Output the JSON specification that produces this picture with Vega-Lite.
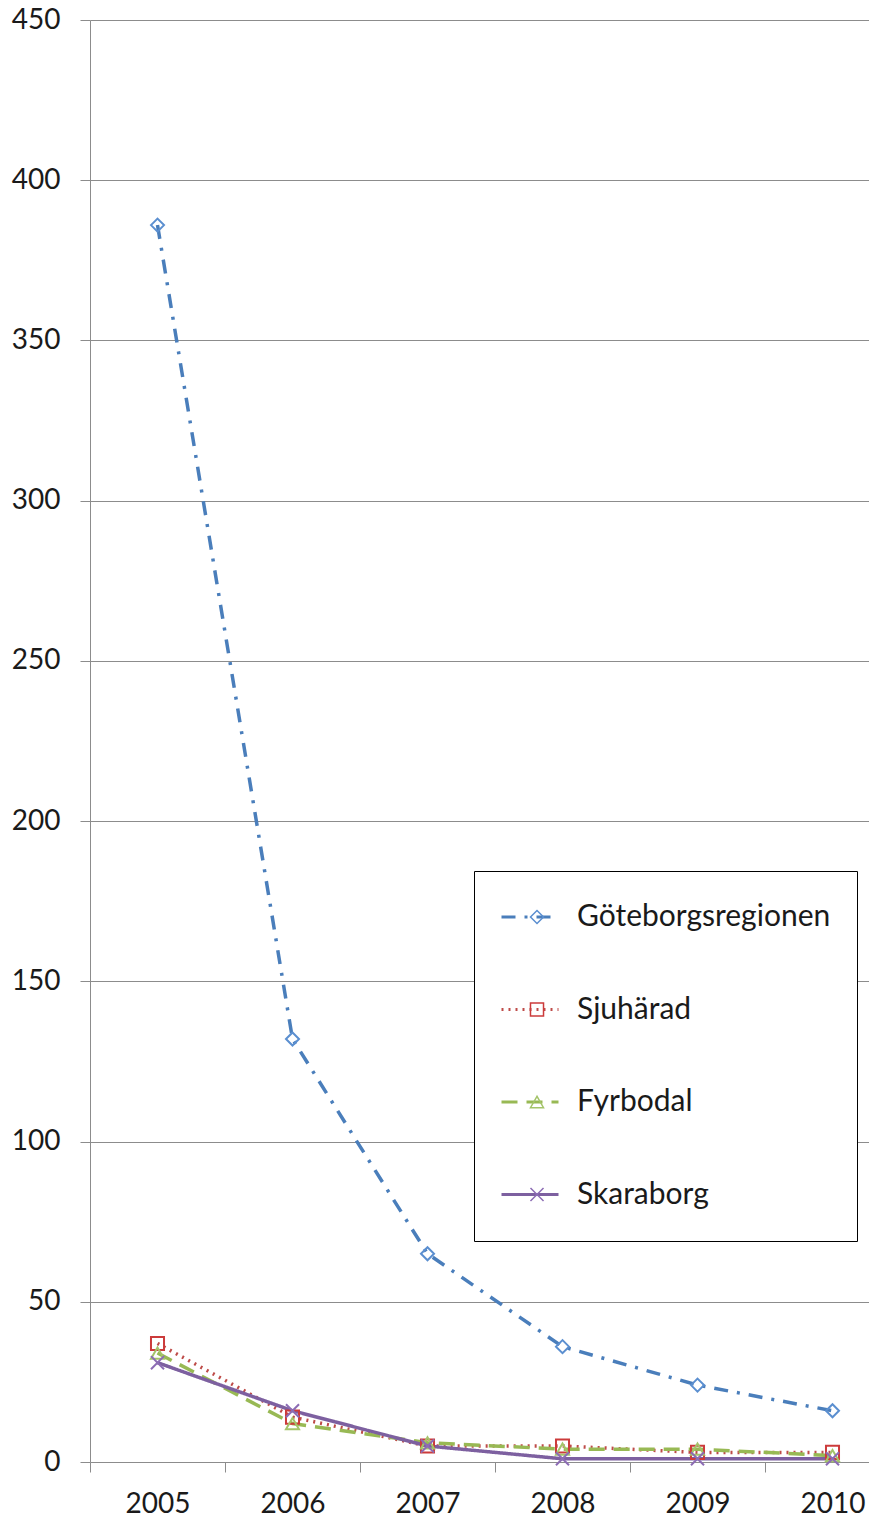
{
  "$schema": "https://vega.github.io/schema/vega-lite/v6.json",
  "usermeta": {"embedOptions": {"actions": false}},
  "width": 775,
  "height": 1442,
  "autosize": {"type": "none"},
  "padding": {"left": 90, "top": 20, "right": 4, "bottom": 57},
  "config": {
    "view": {"stroke": null},
    "font": "Lato",
    "axisY": {
      "gridColor": "#8c8c8c", "gridWidth": 1, "domainColor": "#8c8c8c", "tickColor": "#8c8c8c",
      "tickSize": 10, "labelFontSize": 28, "labelPadding": 20, "labelColor": "#1a1a1a", "labelFont": "Lato"
    },
    "axisX": {
      "domain": false, "grid": false, "tickColor": "#8c8c8c", "tickSize": 10,
      "labelFontSize": 28, "labelPadding": 18, "labelColor": "#1a1a1a", "labelFont": "Lato", "labelAngle": 0
    }
  },
  "data": {
    "values": [
      {"year": "2005", "region": "Göteborgsregionen", "value": 386},
      {"year": "2006", "region": "Göteborgsregionen", "value": 132},
      {"year": "2007", "region": "Göteborgsregionen", "value": 65},
      {"year": "2008", "region": "Göteborgsregionen", "value": 36},
      {"year": "2009", "region": "Göteborgsregionen", "value": 24},
      {"year": "2010", "region": "Göteborgsregionen", "value": 16},
      {"year": "2005", "region": "Sjuhärad", "value": 37},
      {"year": "2006", "region": "Sjuhärad", "value": 14},
      {"year": "2007", "region": "Sjuhärad", "value": 5},
      {"year": "2008", "region": "Sjuhärad", "value": 5},
      {"year": "2009", "region": "Sjuhärad", "value": 3},
      {"year": "2010", "region": "Sjuhärad", "value": 3},
      {"year": "2005", "region": "Fyrbodal", "value": 34},
      {"year": "2006", "region": "Fyrbodal", "value": 12},
      {"year": "2007", "region": "Fyrbodal", "value": 6},
      {"year": "2008", "region": "Fyrbodal", "value": 4},
      {"year": "2009", "region": "Fyrbodal", "value": 4},
      {"year": "2010", "region": "Fyrbodal", "value": 2},
      {"year": "2005", "region": "Skaraborg", "value": 31},
      {"year": "2006", "region": "Skaraborg", "value": 16},
      {"year": "2007", "region": "Skaraborg", "value": 5},
      {"year": "2008", "region": "Skaraborg", "value": 1},
      {"year": "2009", "region": "Skaraborg", "value": 1},
      {"year": "2010", "region": "Skaraborg", "value": 1}
    ]
  },
  "encoding": {
    "x": {
      "field": "year", "type": "ordinal", "title": null,
      "scale": {"type": "band", "range": [0, 810], "paddingInner": 0, "paddingOuter": 0},
      "axis": {"tickBand": "extent"}
    },
    "y": {
      "field": "value", "type": "quantitative", "title": null,
      "scale": {"domain": [0, 450], "nice": false, "zero": true},
      "axis": {"values": [0, 50, 100, 150, 200, 250, 300, 350, 400, 450]}
    }
  },
  "layer": [
    {
      "mark": {"type": "line", "strokeWidth": 3.5, "interpolate": "linear", "strokeCap": "butt"},
      "encoding": {
        "color": {
          "field": "region", "type": "nominal",
          "scale": {"domain": ["Göteborgsregionen", "Sjuhärad", "Fyrbodal", "Skaraborg"], "range": ["#4a7ebb", "#be4b48", "#98b954", "#7d60a0"]},
          "legend": {
            "orient": "none", "legendX": 384, "legendY": 851, "title": null,
            "strokeColor": "#000000", "fillColor": "#ffffff", "padding": 26, "clipHeight": 40,
            "symbolType": "stroke", "symbolSize": 3249, "symbolStrokeWidth": 3,
            "labelFontSize": 30, "labelOffset": 17, "rowPadding": 52.5, "labelLimit": 500,
            "labelColor": "#1a1a1a", "labelFont": "Lato"
          }
        },
        "strokeDash": {
          "field": "region", "type": "nominal",
          "scale": {"domain": ["Göteborgsregionen", "Sjuhärad", "Fyrbodal", "Skaraborg"], "range": [[14, 9, 3, 9], [2, 5], [16, 9], [1, 0]]}
        }
      }
    },
    {
      "mark": {"type": "point", "filled": false, "strokeWidth": 2, "size": 170, "opacity": 1},
      "encoding": {
        "stroke": {
          "field": "region", "type": "nominal",
          "scale": {"domain": ["Göteborgsregionen", "Sjuhärad", "Fyrbodal", "Skaraborg", " "], "range": ["#5b8fd0", "#cc3b3b", "#a4c46a", "#8c6cb4", "#999999"]},
          "legend": {
            "orient": "none", "legendX": 384, "legendY": 851, "title": null,
            "values": ["Göteborgsregionen", "Sjuhärad", "Fyrbodal", "Skaraborg"],
            "padding": 26, "clipHeight": 40, "symbolSize": 170, "symbolStrokeWidth": 1.5, "symbolOffset": 22,
            "labelFontSize": 30, "labelOffset": 40, "rowPadding": 52.5, "labelExpr": "''", "labelLimit": 500, "labelFont": "Lato"
          }
        },
        "shape": {
          "field": "region", "type": "nominal",
          "scale": {"domain": ["Göteborgsregionen", "Sjuhärad", "Fyrbodal", "Skaraborg", " "], "range": ["diamond", "square", "triangle-up", "M-1,-1L1,1M1,-1L-1,1", "circle"]},
          "legend": {
            "orient": "none", "legendX": 384, "legendY": 851, "title": null,
            "values": ["Göteborgsregionen", "Sjuhärad", "Fyrbodal", "Skaraborg"],
            "padding": 26, "clipHeight": 40, "symbolSize": 170, "symbolStrokeWidth": 1.5, "symbolOffset": 22,
            "labelFontSize": 30, "labelOffset": 40, "rowPadding": 52.5, "labelExpr": "''", "labelLimit": 500, "labelFont": "Lato"
          }
        }
      }
    }
  ]
}
